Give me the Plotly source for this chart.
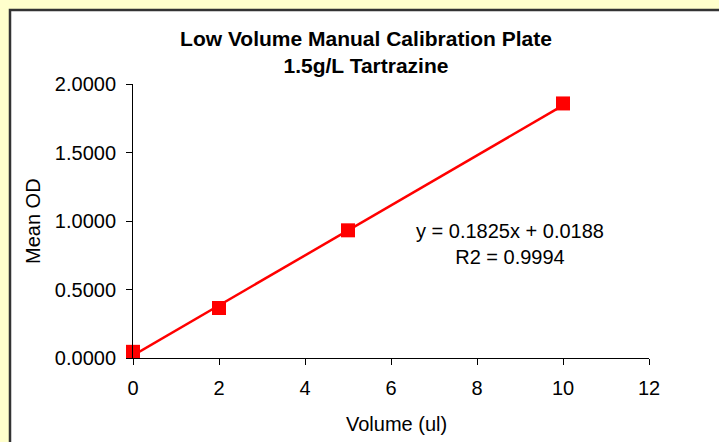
import plotly.graph_objects as go

# measured calibration points
volume_ul = [0, 2, 5, 10]
mean_od = [0.045, 0.365, 0.932, 1.858]

# linear fit shown on the chart
slope = 0.1825
intercept = 0.0188
r2 = 0.9994
fit_x = [0, 10]

x_ticks = [0, 2, 4, 6, 8, 10, 12]
y_ticks = [0.0, 0.5, 1.0, 1.5, 2.0]

W, H = 719, 442
L, R, T, B = 133, 70, 84, 84
pw, ph = W - L - R, H - T - B

FONT = "Liberation Sans, Arial, sans-serif"


def px_x(x):
    return (x - L) / pw


def px_y(y):
    return (H - B - y) / ph


fig = go.Figure()

fig.add_trace(go.Scatter(
    x=fit_x,
    y=[slope * v + intercept for v in fit_x],
    mode='lines',
    line=dict(color='#FF0000', width=2.5),
    showlegend=False,
    hoverinfo='skip',
))

fig.add_trace(go.Scatter(
    x=volume_ul,
    y=mean_od,
    mode='markers',
    marker=dict(symbol='square', color='#FF0000', size=14, line=dict(width=0)),
    showlegend=False,
    cliponaxis=False,
))

# white chart area with dark border on the yellow page
fig.add_shape(
    type='rect', xref='paper', yref='paper', layer='below',
    x0=px_x(10), x1=px_x(W + 20),
    y0=px_y(H + 20), y1=px_y(10),
    fillcolor='white', line=dict(color='#333333', width=2.5),
)

fig.add_annotation(
    x=px_x(510), y=px_y(244), xref='paper', yref='paper',
    xanchor='center', yanchor='middle',
    text=f"y = {slope:.4f}x + {intercept:.4f}<br>R2 = {r2:.4f}",
    showarrow=False, align='center',
    font=dict(family=FONT, size=20, color='black'),
)

# axis titles
fig.add_annotation(
    x=px_x(33), y=px_y(221), xref='paper', yref='paper',
    xanchor='center', yanchor='middle',
    text="Mean OD", textangle=-90, showarrow=False,
    font=dict(family=FONT, size=20, color='black'),
)
fig.add_annotation(
    x=px_x(396), y=px_y(424), xref='paper', yref='paper',
    xanchor='center', yanchor='middle',
    text="Volume (ul)", showarrow=False,
    font=dict(family=FONT, size=20, color='black'),
)

fig.update_layout(
    width=W, height=H,
    margin=dict(l=L, r=R, t=T, b=B),
    paper_bgcolor='#FFFFCC',
    plot_bgcolor='white',
    font=dict(family=FONT, size=20, color='black'),
    title=dict(
        text="<b>Low Volume Manual Calibration Plate<br>1.5g/L Tartrazine</b>",
        x=366 / W, xanchor='center', y=1 - 46 / H, yanchor='middle',
        font=dict(family=FONT, size=21, color='black'),
    ),
)

fig.update_xaxes(
    range=[0, 12], tickvals=x_ticks, automargin=False,
    showline=True, linecolor='black', linewidth=1,
    ticks='outside', ticklen=6, tickcolor='black',
    ticklabelstandoff=6,
    showgrid=False, zeroline=False,
)
fig.update_yaxes(
    range=[0, 2], tickvals=y_ticks, tickformat='.4f', automargin=False,
    showline=True, linecolor='black', linewidth=1,
    ticks='outside', ticklen=6, tickcolor='black',
    ticklabelstandoff=6,
    showgrid=False, zeroline=False,
)

fig.write_html(
    "out.html",
    config={'displayModeBar': False},
    post_script="document.body.style.margin='0';document.body.style.background='#FFFFCC';",
)
